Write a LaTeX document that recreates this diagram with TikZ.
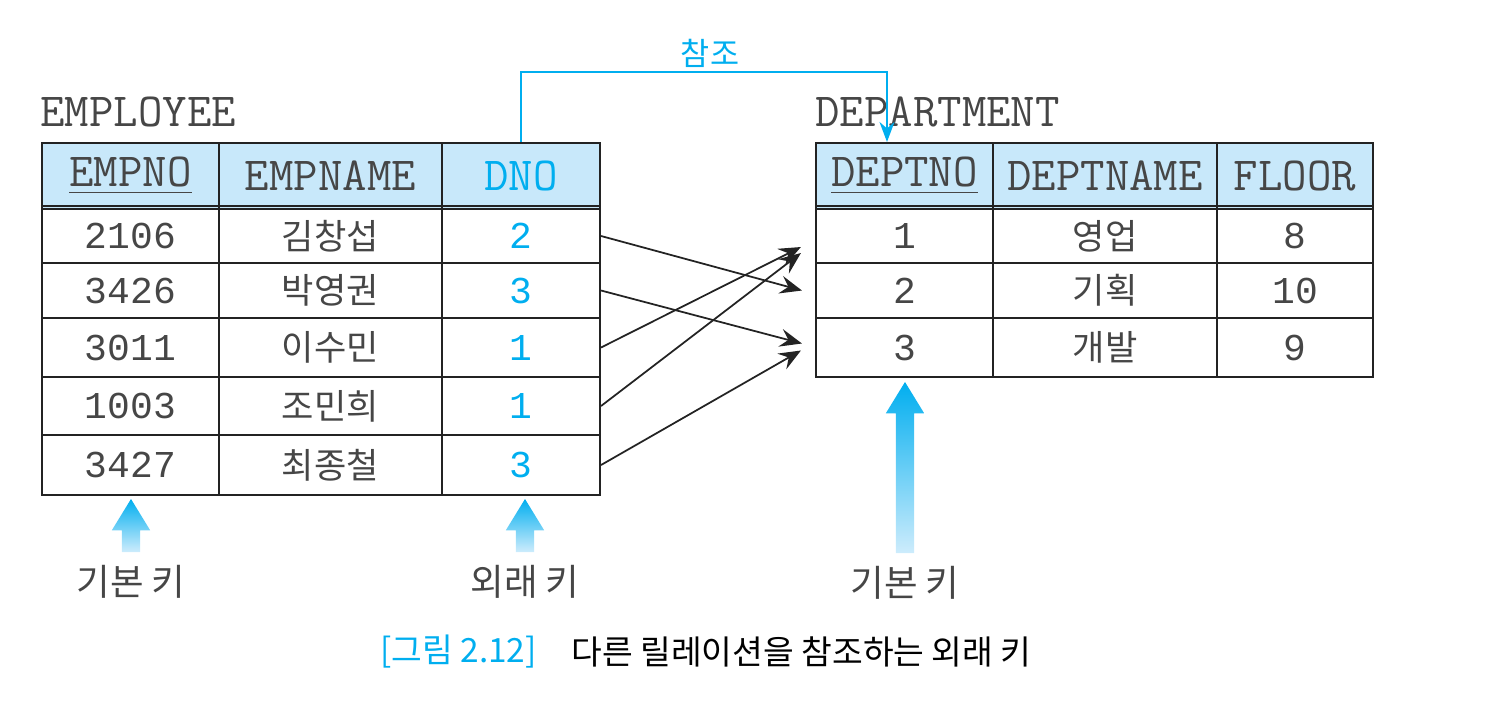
\documentclass[tikz,border=0pt]{standalone}
\usepackage{fontspec}
\newfontfamily\krfont{Noto Sans CJK KR}
\newfontfamily\numfont{Liberation Mono}
\usetikzlibrary{arrows.meta,shapes.arrows,positioning}
\definecolor{ink}{RGB}{35,35,35}
\definecolor{txt}{RGB}{70,70,70}
\definecolor{headblue}{RGB}{200,232,250}
\definecolor{keycyan}{RGB}{0,174,239}
\definecolor{fadecyan}{RGB}{205,236,252}
\newcommand{\hdfont}{\ttfamily\fontsize{13.5}{15}\selectfont}
\newcommand{\cellkr}{\krfont\fontsize{10}{12}\selectfont}
\newcommand{\cellnum}{\numfont\fontsize{10.8}{13}\selectfont}
\newcommand{\labkr}{\krfont\fontsize{10.4}{12}\selectfont}

\begin{document}
\begin{tikzpicture}
[font=\hdfont, text=txt]
\tikzstyle{head}=[draw=ink, line width=0.6pt, fill=headblue, inner sep=0mm, minimum height=6.6mm]
\tikzstyle{cell}=[draw=ink, line width=0.6pt, inner sep=0mm]
\tikzstyle{link}=[ink, line width=0.5pt, -{Stealth[length=2.2mm, width=1.8mm, inset=0.8mm]}]
\tikzstyle{refline}=[keycyan, line width=0.6pt, -{Stealth[length=2mm, width=1.5mm]}]
\tikzstyle{keyarrow}=[single arrow, shape border rotate=90, draw=none, inner sep=0.85mm, single arrow head extend=1mm, single arrow tip angle=63, top color=keycyan, bottom color=fadecyan]
\tikzstyle{keylabel}=[font=\labkr, text=txt]

\useasboundingbox (0,0) rectangle (15,-7.01);

% table names
\node[anchor=west] (emp)  at (0.28,-1.12) {EMPLOYEE};
\node[anchor=west] (dept) at (8.03,-1.12) {DEPARTMENT};

% EMPLOYEE
\node[head, minimum width=17.7mm] (hEMPNO)   at (1.305,-1.76) {\underline{EMPNO}};
\node[head, minimum width=22.3mm] (hEMPNAME) at (3.305,-1.76) {EMPNAME};
\node[head, minimum width=15.8mm, text=keycyan] (hDNO) at (5.21,-1.76) {DNO};
\draw[ink, line width=0.6pt] ([yshift=0.4mm]hEMPNO.south west) -- ([yshift=0.4mm]hDNO.south east);

\node[cell, minimum width=17.7mm, minimum height=5.4mm] (no1)   at (1.305,-2.36) {\cellnum 2106};
\node[cell, minimum width=22.3mm, minimum height=5.4mm] (name1) at (3.305,-2.36) {\cellkr 김창섭};
\node[cell, minimum width=15.8mm, minimum height=5.4mm, text=keycyan] (dno1) at (5.21,-2.36) {\cellnum 2};

\node[cell, minimum width=17.7mm, minimum height=5.5mm] (no2)   at (1.305,-2.905) {\cellnum 3426};
\node[cell, minimum width=22.3mm, minimum height=5.5mm] (name2) at (3.305,-2.905) {\cellkr 박영권};
\node[cell, minimum width=15.8mm, minimum height=5.5mm, text=keycyan] (dno2) at (5.21,-2.905) {\cellnum 3};

\node[cell, minimum width=17.7mm, minimum height=5.9mm] (no3)   at (1.305,-3.475) {\cellnum 3011};
\node[cell, minimum width=22.3mm, minimum height=5.9mm] (name3) at (3.305,-3.475) {\cellkr 이수민};
\node[cell, minimum width=15.8mm, minimum height=5.9mm, text=keycyan] (dno3) at (5.21,-3.475) {\cellnum 1};

\node[cell, minimum width=17.7mm, minimum height=5.8mm] (no4)   at (1.305,-4.06) {\cellnum 1003};
\node[cell, minimum width=22.3mm, minimum height=5.8mm] (name4) at (3.305,-4.06) {\cellkr 조민희};
\node[cell, minimum width=15.8mm, minimum height=5.8mm, text=keycyan] (dno4) at (5.21,-4.06) {\cellnum 1};

\node[cell, minimum width=17.7mm, minimum height=6.0mm] (no5)   at (1.305,-4.65) {\cellnum 3427};
\node[cell, minimum width=22.3mm, minimum height=6.0mm] (name5) at (3.305,-4.65) {\cellkr 최종철};
\node[cell, minimum width=15.8mm, minimum height=6.0mm, text=keycyan] (dno5) at (5.21,-4.65) {\cellnum 3};

% DEPARTMENT
\node[head, minimum width=17.7mm] (hDEPTNO)   at (9.045,-1.76) {\underline{DEPTNO}};
\node[head, minimum width=22.4mm] (hDEPTNAME) at (11.05,-1.76) {DEPTNAME};
\node[head, minimum width=15.6mm] (hFLOOR)    at (12.95,-1.76) {FLOOR};
\draw[ink, line width=0.6pt] ([yshift=0.4mm]hDEPTNO.south west) -- ([yshift=0.4mm]hFLOOR.south east);

\node[cell, minimum width=17.7mm, minimum height=5.4mm] (dno-1)   at (9.045,-2.36) {\cellnum 1};
\node[cell, minimum width=22.4mm, minimum height=5.4mm] (dname1)  at (11.05,-2.36) {\cellkr 영업};
\node[cell, minimum width=15.6mm, minimum height=5.4mm] (floor1)  at (12.95,-2.36) {\cellnum 8};

\node[cell, minimum width=17.7mm, minimum height=5.5mm] (dno-2)   at (9.045,-2.905) {\cellnum 2};
\node[cell, minimum width=22.4mm, minimum height=5.5mm] (dname2)  at (11.05,-2.905) {\cellkr 기획};
\node[cell, minimum width=15.6mm, minimum height=5.5mm] (floor2)  at (12.95,-2.905) {\cellnum 10};

\node[cell, minimum width=17.7mm, minimum height=5.9mm] (dno-3)   at (9.045,-3.475) {\cellnum 3};
\node[cell, minimum width=22.4mm, minimum height=5.9mm] (dname3)  at (11.05,-3.475) {\cellkr 개발};
\node[cell, minimum width=15.6mm, minimum height=5.9mm] (floor3)  at (12.95,-3.475) {\cellnum 9};

% references between rows
\draw[link] (dno1.east) -- ([xshift=-1.3mm]dno-2.west);
\draw[link] (dno2.east) -- ([xshift=-1.3mm, yshift=0.4mm]dno-3.west);
\draw[link] (dno3.east) -- ([xshift=-1.4mm, yshift=-1.1mm]dno-1.west);
\draw[link] (dno4.east) -- ([xshift=-1.4mm, yshift=-1.7mm]dno-1.west);
\draw[link] (dno5.east) -- ([xshift=-1.4mm, yshift=-0.3mm]dno-3.west);

% foreign key to primary key
\draw[refline] (hDNO.north) -- ++(0,0.70) -| ([xshift=-1.75mm]hDEPTNO.north);
\node[font=\krfont\fontsize{9}{10}\selectfont, text=keycyan] (ref) at (7.10,-0.53) {참조};

% key markers
\node[keyarrow, minimum height=5.3mm]  (pk1) at (1.31,-5.33) {};
\node[keyarrow, minimum height=5.3mm]  (fk)  at (5.25,-5.33) {};
\node[keyarrow, minimum height=17.1mm] (pk2) at (9.05,-4.75) {};
\node[keylabel, below=0mm of pk1] (pk1lab) {기본 키};
\node[keylabel, below=0mm of fk]  (fklab)  {외래 키};
\node[keylabel, below=0mm of pk2] (pk2lab) {기본 키};

% caption
\node[anchor=west, font=\krfont\fontsize{9.5}{11}\selectfont, text=keycyan] (capno) at (3.68,-6.52) {[그림 2.12]};
\node[right=1mm of capno, font=\krfont\fontsize{9.5}{11}\selectfont, text=black] (captext) {다른 릴레이션을 참조하는 외래 키};
\end{tikzpicture}
\end{document}
